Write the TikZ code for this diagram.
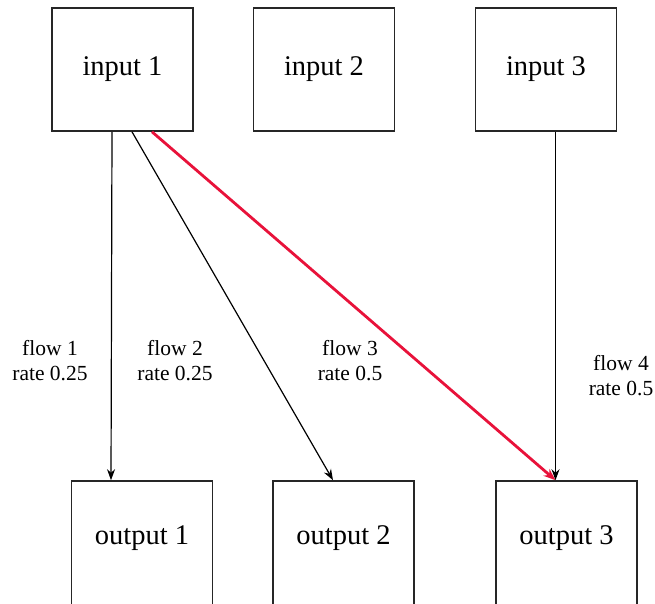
\documentclass[tikz,border=0pt]{standalone}
\usepackage{fontspec}
\setmainfont{Liberation Serif}
\usetikzlibrary{arrows.meta}
\definecolor{flowred}{RGB}{232,18,58}
\begin{document}
\begin{tikzpicture}[x=1pt,y=-1pt,
  boxnode/.style={draw=black!85,line width=1.6pt,rectangle,minimum width=141pt,minimum height=123pt,inner sep=0pt,font=\fontsize{28.5}{34}\selectfont},
  outbox/.style={boxnode,minimum height=128pt},
  flowlabel/.style={align=center,inner sep=0pt,font=\fontsize{21.5}{25}\selectfont},
  conn/.style={line width=1.2pt,-{Stealth[length=11pt,width=8pt]}},
  hot/.style={draw=flowred,line width=2.8pt,-{Stealth[length=12pt,width=9pt]}}]
\useasboundingbox (0,0) rectangle (655,603);
\node[boxnode] (in1) at (122.5,69.5) {input 1};
\node[boxnode] (in2) at (324,69.5) {input 2};
\node[boxnode] (in3) at (546,69.5) {input 3};
\node[outbox] (out1) at (142,545) {\raisebox{7pt}[\height][\depth]{output 1}};
\node[outbox] (out2) at (343.5,545) {\raisebox{7pt}[\height][\depth]{output 2}};
\node[outbox] (out3) at (566.5,545) {\raisebox{7pt}[\height][\depth]{output 3}};
\draw[conn] ([xshift=-10.5pt]in1.south) -- ([xshift=-31pt]out1.north);
\draw[conn] ([xshift=9.5pt]in1.south) -- ([xshift=-10.5pt]out2.north);
\draw[hot] ([xshift=29.5pt]in1.south) -- ([xshift=-11pt]out3.north);
\draw[conn] ([xshift=9.5pt]in3.south) -- ([xshift=-11pt]out3.north);
\node[flowlabel] (f1) at (50,361) {flow 1\\rate 0.25};
\node[flowlabel] (f2) at (175,361) {flow 2\\rate 0.25};
\node[flowlabel] (f3) at (350,361) {flow 3\\rate 0.5};
\node[flowlabel] (f4) at (621,376) {flow 4\\rate 0.5};
\end{tikzpicture}
\end{document}
